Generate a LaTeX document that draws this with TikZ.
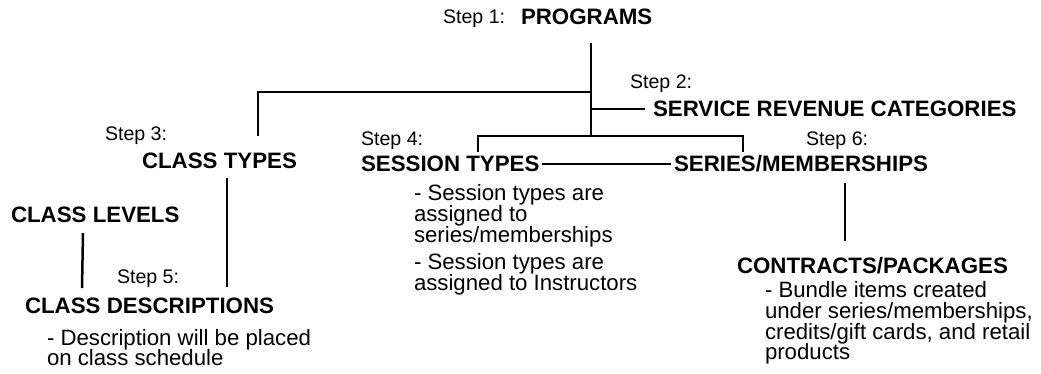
\documentclass[tikz,border=0pt]{standalone}
\usepackage{fontspec}
\setmainfont{Liberation Sans}
\begin{document}
\begin{tikzpicture}[x=1pt,y=-1pt,
  every node/.style={inner sep=0pt, outer sep=0pt, anchor=base west},
  steplbl/.style={font=\fontsize{19.6}{22}\selectfont},
  title/.style={font=\fontsize{22.3}{26}\selectfont\bfseries},
  body/.style={font=\fontsize{22.2}{21}\selectfont, text height=15pt, text depth=4pt},
  conn/.style={line width=2.5pt}]
\useasboundingbox (0,0) rectangle (1041,373);
% texts
\node[steplbl] (s1) at (443,23) {Step 1:};
\node[title] (prog) at (521,24) {PROGRAMS};
\node[steplbl] (s2) at (630,88) {Step 2:};
\node[title] (src) at (653,116) {SERVICE REVENUE CATEGORIES};
\node[steplbl] (s3) at (105,140) {Step 3:};
\node[title] (ct) at (142,168) {CLASS TYPES};
\node[steplbl] (s4) at (361,145) {Step 4:};
\node[title] (st) at (361,171) {SESSION TYPES};
\node[steplbl] (s6) at (806,145) {Step 6:};
\node[title] (sm) at (674,171) {SERIES/MEMBERSHIPS};
\node[body] (b1) at (414,200) {- Session types are};
\node[body] (b2) at (414,221) {assigned to};
\node[body] (b3) at (414,242) {series/memberships};
\node[body] (b4) at (414,269) {- Session types are};
\node[body] (b5) at (414,290) {assigned to Instructors};
\node[title] (cl) at (11,222) {CLASS LEVELS};
\node[steplbl] (s5) at (117,283) {Step 5:};
\node[title] (cd) at (25,313) {CLASS DESCRIPTIONS};
\node[body] (d1) at (47,345) {- Description will be placed};
\node[body] (d2) at (47,365) {on class schedule};
\node[title] (cp) at (737,273) {CONTRACTS/PACKAGES};
\node[body] (p1) at (765,297) {- Bundle items created};
\node[body] (p2) at (765,318) {under series/memberships,};
\node[body] (p3) at (765,339) {credits/gift cards, and retail};
\node[body] (p4) at (765,359) {products};
% junctions
\coordinate (trunkTop) at (591,43);
\coordinate (jA) at (591,92);
\coordinate (jB) at (591,109);
\coordinate (jC) at (591,136);
\coordinate (ctTop) at (258,136);
\coordinate (stTop) at (478,152);
\coordinate (smTop) at (743,152);
\coordinate (ctBot) at (227,178);
\coordinate (cdTop) at (227,287);
\coordinate (clTop) at (83,233);
\coordinate (clBot) at (82,288);
\coordinate (smBot) at (845,183);
\coordinate (cpTop) at (845,241);
% connectors
\draw[conn] (trunkTop) -- (jC);
\draw[conn] (jA) -| (ctTop);
\draw[conn] (jB) -- ([xshift=-8pt]src.west |- jB);
\draw[conn] (stTop) |- (jC) -| (smTop);
\draw[conn] ([xshift=3pt]st.east |- 0,164) -- ([xshift=-3pt]sm.west |- 0,164);
\draw[conn] (ctBot) -- (cdTop);
\draw[conn] (clTop) -- (clBot);
\draw[conn] (smBot) -- (cpTop);
\end{tikzpicture}
\end{document}
